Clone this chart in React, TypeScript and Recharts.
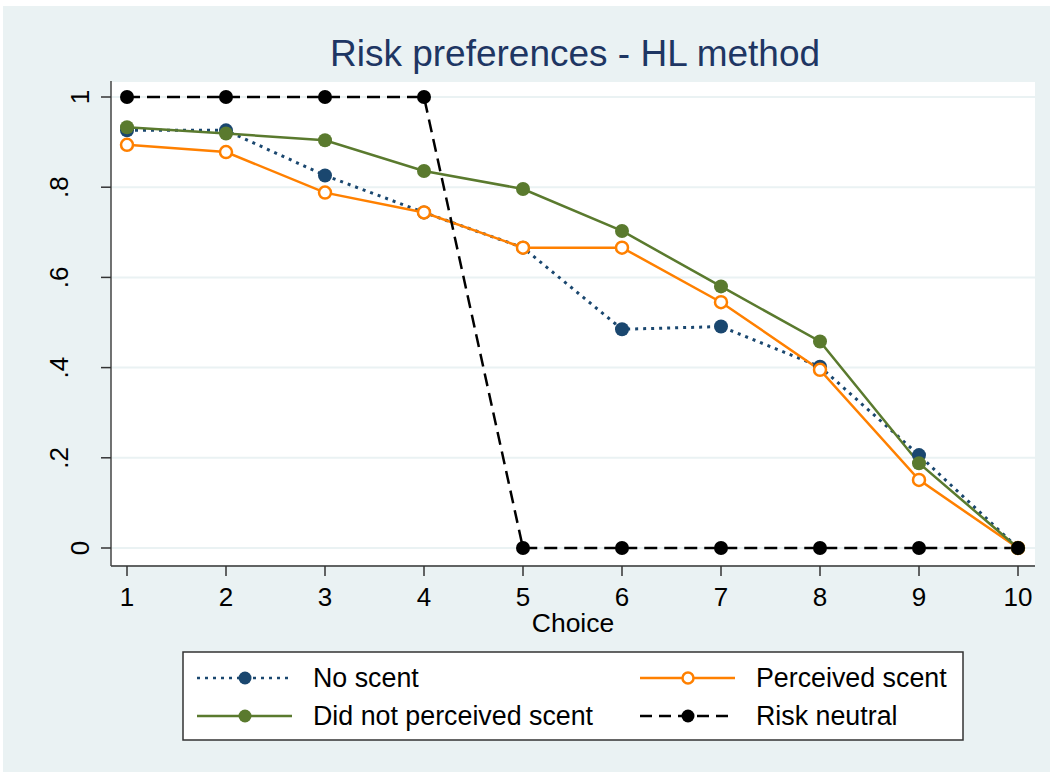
import React from 'react';
import { LineChart, Line, XAxis, YAxis, CartesianGrid } from 'recharts';

// values
const choices = [1, 2, 3, 4, 5, 6, 7, 8, 9, 10];
const noScent = [0.926, 0.926, 0.826, 0.744, 0.666, 0.485, 0.491, 0.402, 0.206, 0];
const perceived = [0.894, 0.878, 0.788, 0.744, 0.666, 0.666, 0.545, 0.395, 0.151, 0];
const notPerceived = [0.933, 0.919, 0.904, 0.836, 0.796, 0.703, 0.58, 0.458, 0.188, 0];
const riskNeutral = [1, 1, 1, 1, 0, 0, 0, 0, 0, 0];
const yTicks = [0, 0.2, 0.4, 0.6, 0.8, 1];

const NAVY = '#1A476F';
const ORANGE = '#FF8000';
const GREEN = '#5A7A2E';
const FONT = '"Liberation Sans", Arial, sans-serif';

const data = choices.map((c, i) => ({
  choice: c,
  noScent: noScent[i],
  perceived: perceived[i],
  notPerceived: notPerceived[i],
  riskNeutral: riskNeutral[i],
}));

const fmtY = (v: number) => (v === 0 ? '0' : v === 1 ? '1' : String(v).replace('0.', '.'));

const YTick = (props: any) => {
  const label = fmtY(props.payload.value);
  // stata puts the short labels closer to the axis
  const bx = label.length === 1 ? 89 : 68;
  return (
    <text
      x={bx}
      y={props.y}
      transform={`rotate(-90, ${bx}, ${props.y})`}
      textAnchor="middle"
      fontSize={26}
      fontFamily={FONT}
      fill="#000"
    >
      {label}
    </text>
  );
};

const XTick = (props: any) => (
  <text x={props.x} y={606} textAnchor="middle" fontSize={26} fontFamily={FONT} fill="#000">
    {props.payload.value}
  </text>
);

const legendItems = [
  { name: 'No scent', color: NAVY, dash: '3 5', hollow: false, col: 0, row: 0 },
  { name: 'Perceived scent', color: ORANGE, dash: undefined, hollow: true, col: 1, row: 0 },
  { name: 'Did not perceived scent', color: GREEN, dash: undefined, hollow: false, col: 0, row: 1 },
  { name: 'Risk neutral', color: '#000', dash: '12 7', hollow: false, col: 1, row: 1 },
];

const Overlay = () => (
  <svg
    width={1050}
    height={772}
    style={{ position: 'absolute', left: 0, top: 0, pointerEvents: 'none' }}
  >
    <text x={575} y={66} textAnchor="middle" fontSize={37} fontFamily={FONT} fill="#1E3663">
      Risk preferences - HL method
    </text>
    <text x={573} y={632} textAnchor="middle" fontSize={26.5} fontFamily={FONT} fill="#000">
      Choice
    </text>
    <rect x={183} y={652} width={780} height={88} fill="#fff" stroke="#333" strokeWidth={1.5} />
    {legendItems.map((it) => {
      const x0 = it.col === 0 ? 197 : 640;
      const y = it.row === 0 ? 678 : 716;
      return (
        <g key={it.name}>
          <line
            x1={x0}
            x2={x0 + 95}
            y1={y}
            y2={y}
            stroke={it.color}
            strokeWidth={2.5}
            strokeDasharray={it.dash}
          />
          <circle
            cx={x0 + 48}
            cy={y}
            r={it.hollow ? 5.5 : 6.5}
            fill={it.hollow ? '#fff' : it.color}
            stroke={it.color}
            strokeWidth={it.hollow ? 2.5 : 0}
          />
          <text x={x0 + 116} y={y + 9} fontSize={26.8} fontFamily={FONT} fill="#000">
            {it.name}
          </text>
        </g>
      );
    })}
  </svg>
);

export default function App() {
  return (
    <div style={{ position: 'fixed', left: 0, top: 0, width: 1050, height: 772, background: '#fff' }}>
      <div style={{ position: 'absolute', left: 3, top: 6, right: 0, bottom: 0, background: '#EAF2F3' }} />
      <div style={{ position: 'absolute', left: 0, top: 0 }}>
        <LineChart width={1050} height={772} data={data} margin={{ top: 81, right: 15, bottom: 166, left: 0 }}>
          <CartesianGrid vertical={false} stroke="#EAF2F3" strokeWidth={2} fill="#fff" fillOpacity={1} />
          <XAxis
            dataKey="choice"
            type="number"
            domain={[1, 10]}
            ticks={choices}
            padding={{ left: 16, right: 17 }}
            height={40}
            tickSize={10}
            axisLine={{ stroke: '#333', strokeWidth: 1.5 }}
            tickLine={{ stroke: '#333', strokeWidth: 1.5 }}
            tick={<XTick />}
            interval={0}
          />
          <YAxis
            type="number"
            domain={[0, 1]}
            ticks={yTicks}
            padding={{ top: 16, bottom: 18 }}
            width={111}
            tickSize={10}
            axisLine={{ stroke: '#444', strokeWidth: 1.5 }}
            tickLine={{ stroke: '#333', strokeWidth: 1.5 }}
            tick={<YTick />}
            interval={0}
          />
          <Line
            dataKey="noScent"
            stroke={NAVY}
            strokeWidth={3}
            strokeDasharray="3 5"
            dot={{ r: 7, fill: NAVY, stroke: NAVY, strokeWidth: 0 }}
            isAnimationActive={false}
            type="linear"
          />
          <Line
            dataKey="perceived"
            stroke={ORANGE}
            strokeWidth={2.5}
            dot={{ r: 6, fill: '#fff', stroke: ORANGE, strokeWidth: 2.5 }}
            isAnimationActive={false}
            type="linear"
          />
          <Line
            dataKey="notPerceived"
            stroke={GREEN}
            strokeWidth={2.5}
            dot={{ r: 7, fill: GREEN, stroke: GREEN, strokeWidth: 0 }}
            isAnimationActive={false}
            type="linear"
          />
          <Line
            dataKey="riskNeutral"
            stroke="#000"
            strokeWidth={2.5}
            strokeDasharray="13 7"
            dot={{ r: 7, fill: '#000', stroke: '#000', strokeWidth: 0 }}
            isAnimationActive={false}
            type="linear"
          />
        </LineChart>
      </div>
      <Overlay />
    </div>
  );
}
